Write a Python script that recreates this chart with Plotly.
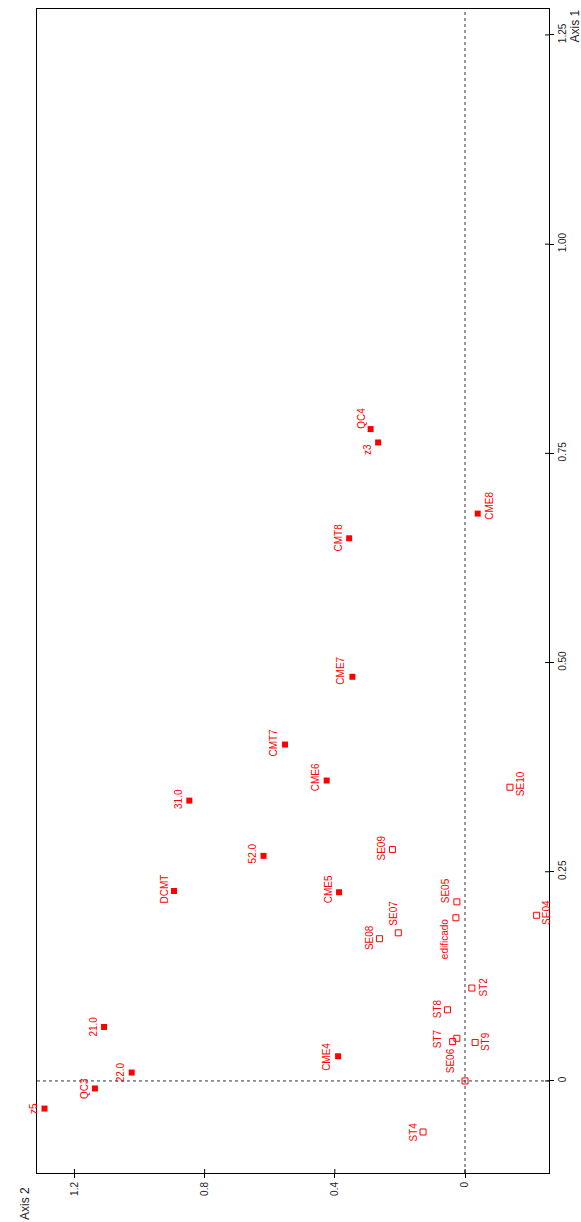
import plotly.graph_objects as go

# Ordination scores: Axis 2 (drawn horizontally, increasing to the left) and Axis 1 (vertical)
filled_names = ["z5", "QC3", "22.0", "21.0", "CME4", "DCMT", "52.0", "31.0", "CME5",
                "CME6", "CMT7", "CME7", "CMT8", "CME8", "QC4", "z3"]
filled_axis2 = [1.292, 1.137, 1.024, 1.109, 0.390, 0.894, 0.619, 0.847, 0.387,
                0.425, 0.553, 0.346, 0.356, -0.039, 0.290, 0.267]
filled_axis1 = [-0.033, -0.009, 0.010, 0.0645, 0.0295, 0.227, 0.269, 0.335, 0.2255,
                0.359, 0.402, 0.483, 0.6485, 0.678, 0.779, 0.763]

open_names = ["ST4", "", "SE06", "ST7", "ST9", "ST8", "ST2", "SE04", "edificado",
              "SE05", "SE07", "SE08", "SE09", "SE10"]
open_axis2 = [0.129, 0.0, 0.038, 0.025, -0.031, 0.054, -0.021, -0.220, 0.028,
              0.025, 0.205, 0.263, 0.223, -0.138]
open_axis1 = [-0.061, 0.0, 0.047, 0.051, 0.046, 0.085, 0.111, 0.198, 0.195,
              0.214, 0.177, 0.170, 0.2765, 0.351]

axis2_ticks = [0, 0.4, 0.8, 1.2]
axis2_ticktext = ["0", "0.4", "0.8", "1.2"]
axis1_ticks = [0, 0.25, 0.5, 0.75, 1.0, 1.25]
axis1_ticktext = ["0", "0.25", "0.50", "0.75", "1.00", "1.25"]

# Label placement (pixel shifts right / down from each point)
label_shift = {
    "z5": (-11, 0), "QC3": (-10.5, 0), "22.0": (-11, 0), "21.0": (-10.5, 0),
    "CME4": (-11.5, 1), "DCMT": (-10.5, -2), "52.0": (-11, -2), "31.0": (-11, -2),
    "CME5": (-10.5, -2.5), "CME6": (-11, -3), "CMT7": (-11, -2), "CME7": (-11.5, -6),
    "CMT8": (-11, -1), "CME8": (11.5, -8), "QC4": (-10, -11), "z3": (-10.5, 7),
    "ST4": (-10.5, 0), "SE06": (-2, 19), "ST7": (-20, 0), "ST9": (10.5, -1),
    "ST8": (-10, -1), "ST2": (11.5, -1), "SE04": (10, -3), "edificado": (-11.5, 21),
    "SE05": (-11.5, -11), "SE07": (-4.5, -20), "SE08": (-10, -1), "SE09": (-10.5, -2),
    "SE10": (10, -4),
}

X_RANGE = [1.315, -0.258]
Y_RANGE = [-0.110, 1.281]
RED = "#ff0000"
INK = "#222222"

fig = go.Figure()
fig.add_trace(go.Scatter(
    x=filled_axis2, y=filled_axis1, mode="markers",
    marker=dict(symbol="square", size=6, color=RED, line=dict(width=0)),
    hoverinfo="skip",
))
fig.add_trace(go.Scatter(
    x=open_axis2, y=open_axis1, mode="markers",
    marker=dict(symbol="square-open", size=6, color=RED, line=dict(width=1, color=RED)),
    hoverinfo="skip",
))

annotations = []
for names, xs, ys in ((filled_names, filled_axis2, filled_axis1),
                      (open_names, open_axis2, open_axis1)):
    for name, xv, yv in zip(names, xs, ys):
        if not name:
            continue
        dx, dy = label_shift.get(name, (-10.5, 0))
        annotations.append(dict(
            x=xv, y=yv, xref="x", yref="y", text=name, showarrow=False,
            textangle=-90, xanchor="center", yanchor="middle",
            xshift=dx, yshift=-dy, borderpad=0,
            font=dict(family="Liberation Sans, Arial, sans-serif", size=10, color=RED),
        ))

# Axis titles in the corners
annotations.append(dict(
    x=-12 / 512, y=-31 / 1164, xref="paper", yref="paper", text="Axis 2",
    showarrow=False, textangle=-90, xanchor="center", yanchor="middle",
    font=dict(family="Liberation Sans, Arial, sans-serif", size=12, color=INK),
))
annotations.append(dict(
    x=1 + 26 / 512, y=1 - 17.5 / 1164, xref="paper", yref="paper", text="Axis 1",
    showarrow=False, textangle=-90, xanchor="center", yanchor="middle",
    font=dict(family="Liberation Sans, Arial, sans-serif", size=12, color=INK),
))

shapes = [
    # dashed zero lines
    dict(type="line", xref="x", yref="paper", x0=0, x1=0, y0=0, y1=1,
         line=dict(color="#333333", width=1, dash="3px,3px")),
    dict(type="line", xref="paper", yref="y", x0=0, x1=1, y0=0, y1=0,
         line=dict(color="#333333", width=1, dash="3px,3px")),
]
# inner halves of the tick marks
for tv in axis2_ticks:
    shapes.append(dict(type="line", xref="x", yref="paper", ysizemode="pixel",
                       yanchor=0, x0=tv, x1=tv, y0=0, y1=4,
                       line=dict(color="black", width=1)))
for tv in axis1_ticks:
    shapes.append(dict(type="line", xref="paper", yref="y", xsizemode="pixel",
                       xanchor=1, y0=tv, y1=tv, x0=-4, x1=0,
                       line=dict(color="black", width=1)))

tick_font = dict(family="Liberation Sans, Arial, sans-serif", size=10, color=INK)
fig.update_layout(
    width=581, height=1222,
    margin=dict(l=37, r=32, t=9, b=49),
    plot_bgcolor="white", paper_bgcolor="white",
    showlegend=False,
    annotations=annotations,
    shapes=shapes,
    xaxis=dict(range=X_RANGE, tickvals=axis2_ticks, ticktext=axis2_ticktext,
               tickangle=-90, ticks="outside", ticklen=4, tickcolor="black",
               showline=True, linecolor="black", linewidth=1, mirror=True,
               showgrid=False, zeroline=False, tickfont=tick_font),
    yaxis=dict(range=Y_RANGE, side="right", tickvals=axis1_ticks,
               ticktext=axis1_ticktext, tickangle=-90, ticks="outside",
               ticklen=4, tickcolor="black", showline=True, linecolor="black",
               linewidth=1, mirror=True, showgrid=False, zeroline=False,
               tickfont=tick_font),
)

fig.write_html("out.html")
